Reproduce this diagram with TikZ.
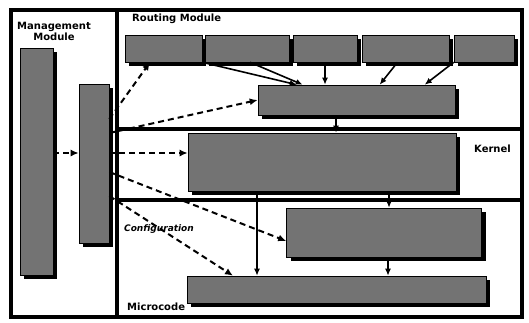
\documentclass[tikz,border=0pt]{standalone}
\usepackage{fontspec}
\setsansfont{DejaVu Sans}
\usetikzlibrary{
	arrows.meta,
	positioning,
	calc,
	shadows
}

\tikzset{
	modbox/.style={fill=black!55,draw=black,line width=0.6pt,inner sep=0pt,
		drop shadow={shadow xshift=4pt,shadow yshift=-4pt,fill=black,opacity=1}},
	flow/.style={line width=1.6pt,-{Latex[length=7pt,width=6pt]}},
	cfgflow/.style={line width=2pt,dash pattern=on 6pt off 4pt,-{Latex[length=8pt,width=7pt]}},
	divider/.style={line width=4pt},
	modlabel/.style={font=\sffamily\bfseries\fontsize{10}{11}\selectfont,inner sep=0pt}
}

\begin{document}
\begin{tikzpicture}[x=1pt,y=-1pt]
		
		\useasboundingbox (0,0) rectangle (529,322);
		
		\draw[line width=3.5pt] (11,10) rectangle (522,317);
		\draw[divider] (117,10) -- (117,317);
		\draw[divider] (117,129) -- (522,129);
		\draw[divider] (117,200) -- (522,200);
		
		\node[modlabel,align=center] (mgmtlbl) at (54,31) {Management\\Module};
		\node[modlabel,anchor=west] (routlbl) at (132,19) {Routing Module};
		\node[modlabel,anchor=west] (kernlbl) at (474,149) {Kernel};
		\node[modlabel,anchor=west,font=\sffamily\bfseries\itshape\fontsize{9}{10}\selectfont] (cfglbl) at (124,229) {Configuration};
		\node[modlabel,anchor=west] (microlbl) at (127,307) {Microcode};
		
		\node[modbox,minimum width=33pt,minimum height=227pt] (mgmt) at (36.5,161.5) {};
		\node[modbox,minimum width=30pt,minimum height=159pt] (cfg) at (94,163.5) {};
		
		\node[modbox,minimum width=77pt,minimum height=27pt] (r1) at (163.5,48.5) {};
		\node[modbox,minimum width=84pt,minimum height=27pt] (r2) at (247,48.5) {};
		\node[modbox,minimum width=64pt,minimum height=27pt] (r3) at (325,48.5) {};
		\node[modbox,minimum width=87pt,minimum height=27pt] (r4) at (405.5,48.5) {};
		\node[modbox,minimum width=60pt,minimum height=27pt] (r5) at (484,48.5) {};
		\node[modbox,minimum width=197pt,minimum height=30pt] (rtable) at (356.5,100) {};
		
		\node[modbox,minimum width=268pt,minimum height=58pt] (kernel) at (322,162) {};
		\node[modbox,minimum width=195pt,minimum height=49pt] (fwd) at (384,232.5) {};
		\node[modbox,minimum width=299pt,minimum height=27pt] (micro) at (336.5,289.5) {};
		
		\draw[flow] (r1.south east) -- ($(rtable.north west)+(39,0)$);
		\draw[flow] ($(r2.south)+(3,0)$) -- ($(rtable.north west)+(45,0)$);
		\draw[flow] (r3.south) -- (r3.south |- rtable.north);
		\draw[flow] ($(r4.south)+(-8,0)$) -- ($(rtable.north west)+(122,0)$);
		\draw[flow] (r5.south west) -- ($(rtable.north west)+(167,0)$);
		
		\draw[flow] ($(rtable.south)+(-20.5,0)$) -- ($(rtable.south |- kernel.north)+(-20.5,0)$);
		\draw[flow] ($(kernel.south)+(-65,0)$) -- ($(kernel.south |- micro.north)+(-65,0)$);
		\draw[flow] ($(fwd.north |- kernel.south)+(5,0)$) -- ($(fwd.north)+(5,0)$);
		\draw[flow] ($(fwd.south)+(4,0)$) -- ($(fwd.south |- micro.north)+(4,0)$);
		
		\draw[cfgflow] ($(mgmt.east)+(0,-8.5)$) -- ($(cfg.west)+(0,-10.5)$);
		\draw[cfgflow] ($(cfg.east)+(0,-44.5)$) -- ($(r1.south)+(-13.5,0)$);
		\draw[cfgflow] ($(cfg.east)+(0,-30.5)$) -- (rtable.west);
		\draw[cfgflow] ($(cfg.east)+(0,-10.5)$) -- ($(kernel.west)+(0,-9)$);
		\draw[cfgflow] ($(cfg.east)+(0,8.5)$) -- ($(fwd.west)+(0,8.5)$);
		\draw[cfgflow] ($(cfg.east)+(0,32.5)$) -- ($(micro.north)+(-103.5,0)$);
		
	\end{tikzpicture}
\end{document}
